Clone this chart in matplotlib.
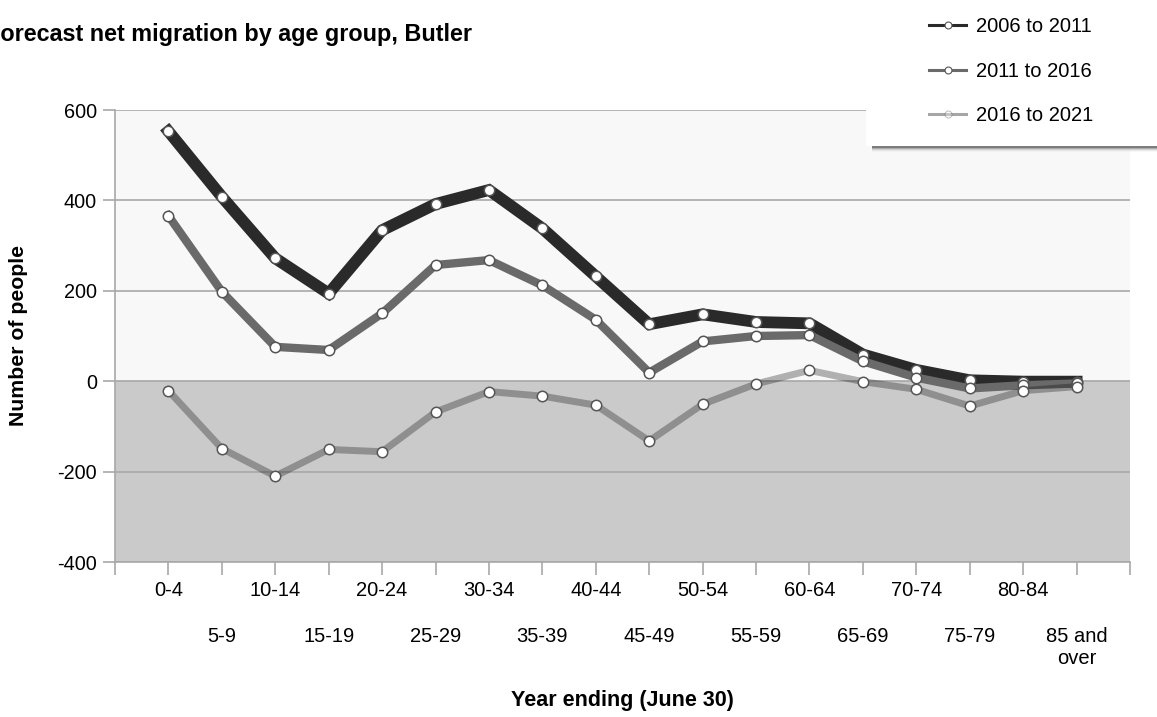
import numpy as np
import matplotlib.pyplot as plt
from matplotlib.lines import Line2D
from matplotlib.patches import Rectangle

plt.rcParams['font.family'] = ['Liberation Sans', 'DejaVu Sans']

age_groups = ['0-4', '5-9', '10-14', '15-19', '20-24', '25-29', '30-34', '35-39',
              '40-44', '45-49', '50-54', '55-59', '60-64', '65-69', '70-74',
              '75-79', '80-84', '85 and\nover']
s_2006_2011 = [553, 408, 272, 194, 334, 392, 423, 338, 232, 126, 148, 131, 128,
               59, 25, 2, -1, -1]
s_2011_2016 = [366, 198, 76, 69, 150, 257, 268, 212, 136, 19, 88, 100, 102,
               44, 8, -16, -9, -5]
s_2016_2021 = [-21, -149, -210, -151, -156, -68, -23, -33, -53, -132, -51, -6, 24,
               -1, -18, -55, -21, -12]
series_labels = ['2006 to 2011', '2011 to 2016', '2016 to 2021']
y_ticks = [-400, -200, 0, 200, 400, 600]

W, H = 1157, 717
fig = plt.figure(figsize=(W / 100, H / 100), dpi=100)
ax = fig.add_axes([115 / W, 155 / H, 1015 / W, 452 / H])

x = np.arange(len(age_groups))
ax.set_xlim(-1, len(age_groups))
ax.set_ylim(-400, 600)

# two-tone background
ax.axhspan(0, 600, color='#f8f8f8', zorder=0)
ax.axhspan(-400, 0, color='#cacaca', zorder=0)
for yv in y_ticks:
    ax.axhline(yv, color='#a8a8a8', lw=1.2, zorder=1)

# (colour, alpha, width)
styles = [('#2a2a2a', 1.0, 8.5), ('#6a6a6a', 1.0, 6), ('black', 0.29, 5)]
handles = []
for vals, (col, a, lw), lab in zip([s_2006_2011, s_2011_2016, s_2016_2021], styles, series_labels):
    ax.plot(x, vals, color=col, alpha=a, lw=lw, solid_joinstyle='miter', zorder=3)
    ax.plot(x, vals, ls='none', marker='o', ms=7.5, mfc='white', mec='#555555',
            mew=1.1, zorder=4)
    handles.append(Line2D([], [], color=col, alpha=a if a == 1 else 0.35, lw=2.2,
                          marker='o', ms=5, mfc='white', mec='#555555', mew=0.8))

for s in ['top', 'right']:
    ax.spines[s].set_visible(False)
for s in ['left', 'bottom']:
    ax.spines[s].set_color('#a8a8a8')
    ax.spines[s].set_linewidth(1.2)

ax.set_yticks(y_ticks)
ax.set_yticklabels([str(v) for v in y_ticks])
ax.tick_params(axis='y', length=9, width=1.2, color='#a8a8a8', labelsize=14.3, pad=4)

major = [-1] + list(x[0::2]) + [len(age_groups)]
ax.set_xticks(major)
ax.set_xticklabels([''] + age_groups[0::2] + [''])
ax.set_xticks(x[1::2], minor=True)
ax.set_xticklabels(age_groups[1::2], minor=True)
ax.tick_params(axis='x', which='major', length=9, width=1.2, color='#a8a8a8',
               labelsize=14.5, pad=5)
ax.tick_params(axis='x', which='minor', length=9, width=1.2, color='#a8a8a8',
               labelsize=14.5, pad=38)
for lbl in ax.get_xticklabels(minor=True):
    lbl.set_linespacing(1.15)

ax.set_ylabel('Number of people', fontsize=15.3, fontweight='bold', labelpad=21)
ax.set_xlabel('Year ending (June 30)', fontsize=15.5, fontweight='bold', labelpad=16)

fig.text(-14 / W, 1 - 35 / H, 'Forecast net migration by age group, Butler',
         fontsize=16.8, fontweight='bold', ha='left', va='center')

# legend box with soft shadow underneath
box_x, box_bottom = 866, 146
for i, (c, a) in enumerate([('#555555', 0.75), ('#777777', 0.5), ('#999999', 0.35),
                            ('#bbbbbb', 0.25), ('#dddddd', 0.2)]):
    fig.patches.append(Rectangle(((box_x + 6) / W, 1 - (box_bottom + i + 1.5) / H),
                                 (W - box_x) / W, 1.2 / H, transform=fig.transFigure,
                                 facecolor=c, alpha=a, edgecolor='none', zorder=5))
fig.patches.append(Rectangle((box_x / W, 1 - box_bottom / H), (W - box_x + 5) / W,
                             box_bottom / H + 0.01, transform=fig.transFigure,
                             facecolor='white', edgecolor='none', zorder=6))

leg = fig.legend(handles, series_labels, loc='upper left',
                 bbox_to_anchor=(925 / W, 1 - 13 / H), frameon=False,
                 fontsize=14.5, handlelength=1.85, labelspacing=1.27,
                 borderpad=0.2, handletextpad=0.5, borderaxespad=0)
leg.set_zorder(7)

fig.savefig('out.png', dpi=100)
